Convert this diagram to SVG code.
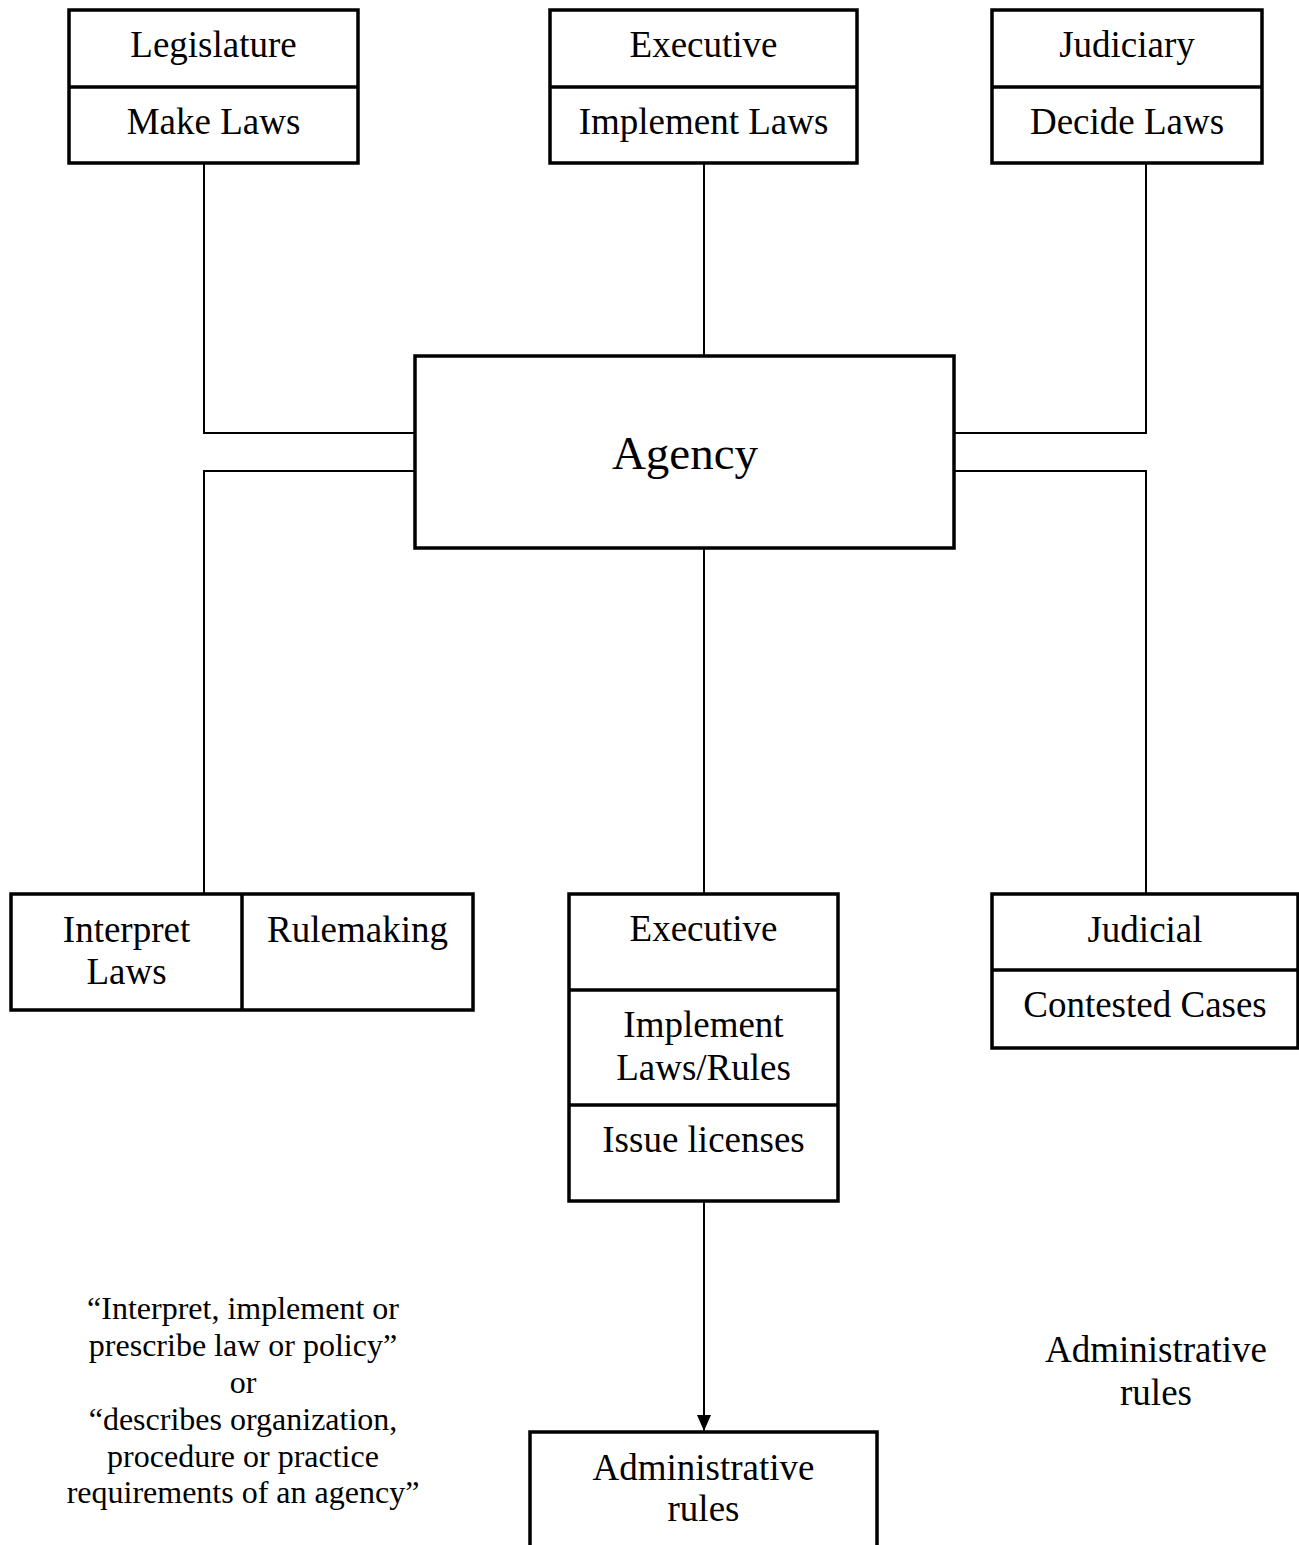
<svg xmlns="http://www.w3.org/2000/svg" width="1299" height="1545" viewBox="0 0 1299 1545">
<style>
.box{fill:#fff;stroke:#000;stroke-width:3.5}
.div{stroke:#000;stroke-width:3.5;fill:none}
.c{stroke:#000;stroke-width:2;fill:none}
text{font-family:"Liberation Serif","Times New Roman",serif;fill:#000;text-anchor:middle}
.t{font-size:37px}
.big{font-size:47px}
.note{font-size:32px}
</style>
<defs>
<marker id="arr" markerWidth="16" markerHeight="16" refX="16" refY="8" orient="auto" markerUnits="userSpaceOnUse" viewBox="0 0 16 16">
<path d="M0,1 L16,8 L0,15 Z" fill="#000"/>
</marker>
</defs>
<g id="connectors">
<polyline class="c" points="204,163 204,433 415,433"/>
<line class="c" x1="704" y1="163" x2="704" y2="356"/>
<polyline class="c" points="1146,163 1146,433 954,433"/>
<polyline class="c" points="415,471 204,471 204,894"/>
<polyline class="c" points="954,471 1146,471 1146,894"/>
<line class="c" x1="704" y1="548" x2="704" y2="894"/>
<line class="c" x1="704" y1="1201" x2="704" y2="1431" marker-end="url(#arr)"/>
</g>
<g id="legislature">
<rect class="box" x="69" y="10" width="289" height="153"/>
<line class="div" x1="69" y1="87" x2="358" y2="87"/>
<text class="t" x="213.5" y="57">Legislature</text>
<text class="t" x="213.5" y="134">Make Laws</text>
</g>
<g id="executive-top">
<rect class="box" x="550" y="10" width="307" height="153"/>
<line class="div" x1="550" y1="87" x2="857" y2="87"/>
<text class="t" x="703.5" y="57">Executive</text>
<text class="t" x="703.5" y="134">Implement Laws</text>
</g>
<g id="judiciary">
<rect class="box" x="992" y="10" width="270" height="153"/>
<line class="div" x1="992" y1="87" x2="1262" y2="87"/>
<text class="t" x="1127" y="57">Judiciary</text>
<text class="t" x="1127" y="134">Decide Laws</text>
</g>
<g id="agency">
<rect class="box" x="415" y="356" width="539" height="192"/>
<text class="big" x="685" y="469">Agency</text>
</g>
<g id="rulemaking">
<rect class="box" x="11" y="894" width="462" height="116"/>
<line class="div" x1="242" y1="894" x2="242" y2="1010"/>
<text class="t" x="126.5" y="942">Interpret</text>
<text class="t" x="126.5" y="984">Laws</text>
<text class="t" x="357.5" y="942">Rulemaking</text>
</g>
<g id="executive-bottom">
<rect class="box" x="569" y="894" width="269" height="307"/>
<line class="div" x1="569" y1="990" x2="838" y2="990"/>
<line class="div" x1="569" y1="1105" x2="838" y2="1105"/>
<text class="t" x="703.5" y="941">Executive</text>
<text class="t" x="703.5" y="1037">Implement</text>
<text class="t" x="703.5" y="1080">Laws/Rules</text>
<text class="t" x="703.5" y="1152">Issue licenses</text>
</g>
<g id="judicial">
<rect class="box" x="992" y="894" width="306" height="154"/>
<line class="div" x1="992" y1="970" x2="1298" y2="970"/>
<text class="t" x="1145" y="942">Judicial</text>
<text class="t" x="1145" y="1017">Contested Cases</text>
</g>
<g id="administrative-rules">
<rect class="box" x="530" y="1432" width="347" height="140"/>
<text class="t" x="703.5" y="1480">Administrative</text>
<text class="t" x="703.5" y="1521">rules</text>
</g>
<g id="note-left">
<text class="note" x="243" y="1319">“Interpret, implement or</text>
<text class="note" x="243" y="1356">prescribe law or policy”</text>
<text class="note" x="243" y="1393">or</text>
<text class="note" x="243" y="1430">“describes organization,</text>
<text class="note" x="243" y="1467">procedure or practice</text>
<text class="note" x="243" y="1503">requirements of an agency”</text>
</g>
<g id="note-right">
<text class="t" x="1156" y="1362">Administrative</text>
<text class="t" x="1156" y="1405">rules</text>
</g>
</svg>
